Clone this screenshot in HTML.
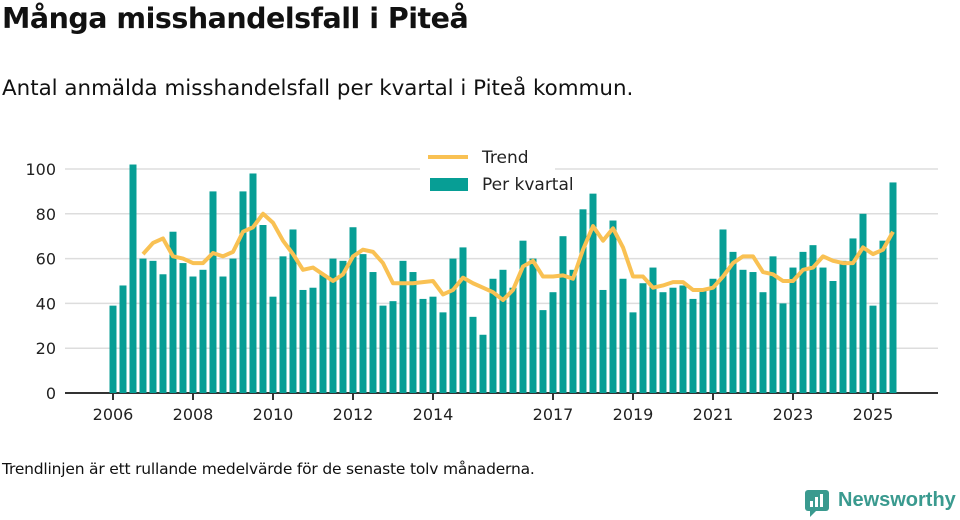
<!DOCTYPE html>
<html><head><meta charset="utf-8"><style>
body{margin:0;width:960px;height:520px;background:#fff;font-family:"Liberation Sans","DejaVu Sans",sans-serif;color:#111;overflow:hidden;position:relative}
.t{position:absolute;left:2px;top:2px;font-size:28.5px;font-weight:bold;font-family:"DejaVu Sans",sans-serif;letter-spacing:-0.5px}
.s{position:absolute;left:2px;top:76px;font-size:21.4px;font-family:"DejaVu Sans",sans-serif}
.f{position:absolute;left:2px;top:460px;font-size:15.5px;font-family:"DejaVu Sans",sans-serif;letter-spacing:-0.2px}
.logo{position:absolute;left:804px;top:489px;font-size:20px;color:#3a9a8f;font-family:"Liberation Sans",sans-serif;font-weight:bold}
svg{position:absolute;left:0;top:0}
</style></head><body>
<div class="t">Många misshandelsfall i Piteå</div>
<div class="s">Antal anmälda misshandelsfall per kvartal i Piteå kommun.</div>
<div class="f">Trendlinjen är ett rullande medelvärde för de senaste tolv månaderna.</div>
<div class="logo"><svg width="26" height="28" style="position:absolute;left:0;top:0"><rect x="1" y="1" width="24" height="21" rx="3" fill="#3a9a8f"/><path d="M6 22 L6 28 L12 22Z" fill="#3a9a8f"/><rect x="6" y="12" width="3" height="6" fill="#fff"/><rect x="11" y="8" width="3" height="10" fill="#fff"/><rect x="16" y="5" width="3" height="13" fill="#fff"/></svg><span style="margin-left:34px">Newsworthy</span></div>
<svg id="c" width="960" height="520"></svg>
<script>
const categories=[];for(let y=2006;y<=2025;y++)for(let q=1;q<=4;q++)if(!(y==2025&&q==4))categories.push(y+"Q"+q);
const barValues=[39,48,102,60,59,53,72,58,52,55,90,52,60,90,98,75,43,61,73,46,47,53,60,59,74,62,54,39,41,59,54,42,43,36,60,65,34,26,51,55,47,68,60,37,45,70,55,82,89,46,77,51,36,49,56,45,47,48,42,46,51,73,63,55,54,45,61,40,56,63,66,56,50,59,69,80,39,68,94];
const trendValues=[null,null,null,62,67,69,61,60,58,58,62.5,61,63,72,74,80,76,68,62,55,56,53,50,53,61,64,63,58,49,49,49,49.5,50,44,46,51.5,49,47,45,41.5,46,56.5,59,52,52,52.5,51,64,74.5,68,73.5,65,52,52,47,48,49.5,49.5,46,46,47,52,58,61,61,54,53,50,50,55,56,61,59,58,58,65,62,64,72];
const yTicks=[0,20,40,60,80,100];
const xTickLabels=["2006","2008","2010","2012","2014","2017","2019","2021","2023","2025"];
const xTickIndex=[0,8,16,24,32,44,52,60,68,76];
const NS="http://www.w3.org/2000/svg",svg=document.getElementById('c');
const X=i=>113+i*10, Y=v=>393-v*2.24;
function el(t,a,p){const e=document.createElementNS(NS,t);for(const k in a)e.setAttribute(k,a[k]);(p||svg).appendChild(e);return e;}
yTicks.forEach(v=>{
 const g=el('line',{x1:65,x2:938,y1:Y(v),y2:Y(v),stroke:v?'#ddd':'#333','stroke-width':v?1.5:2});
 
 
 const t=el('text',{x:56,y:Y(v)+6,'text-anchor':'end','font-size':16,fill:'#222','font-family':'DejaVu Sans,sans-serif'});t.textContent=v;
 
 
});
barValues.forEach((v,i)=>{
 const b=el('rect',{x:X(i)-3.5,y:Y(v),width:7,height:v*2.24,fill:'#079e95'});
 
 
});
let d='';trendValues.forEach((v,i)=>{if(v!=null)d+=(d?'L':'M')+X(i)+' '+Y(v);});
const tl=el('path',{d:d,fill:'none',stroke:'#f9c153','stroke-width':4,'stroke-linejoin':'round'});


xTickIndex.forEach((idx,k)=>{
 const l=el('line',{x1:X(idx),x2:X(idx),y1:393,y2:400,stroke:'#333','stroke-width':2});
 
 
 const t=el('text',{x:X(idx),y:420,'text-anchor':'middle','font-size':16,fill:'#222','font-family':'DejaVu Sans,sans-serif'});t.textContent=xTickLabels[k];
 
 
});
const lg=el('g',{});


el('rect',{x:420,y:142,width:135,height:58,fill:'#fff'},lg);
el('line',{x1:428,x2:468,y1:157,y2:157,stroke:'#f9c153','stroke-width':4},lg);
el('rect',{x:430,y:178,width:38,height:13,fill:'#079e95'},lg);
const t1=el('text',{x:482,y:163,'font-size':17,fill:'#222','font-family':'DejaVu Sans,sans-serif'},lg);t1.textContent='Trend';


const t2=el('text',{x:482,y:190,'font-size':17,fill:'#222','font-family':'DejaVu Sans,sans-serif'},lg);t2.textContent='Per kvartal';


</script>
</body></html>
